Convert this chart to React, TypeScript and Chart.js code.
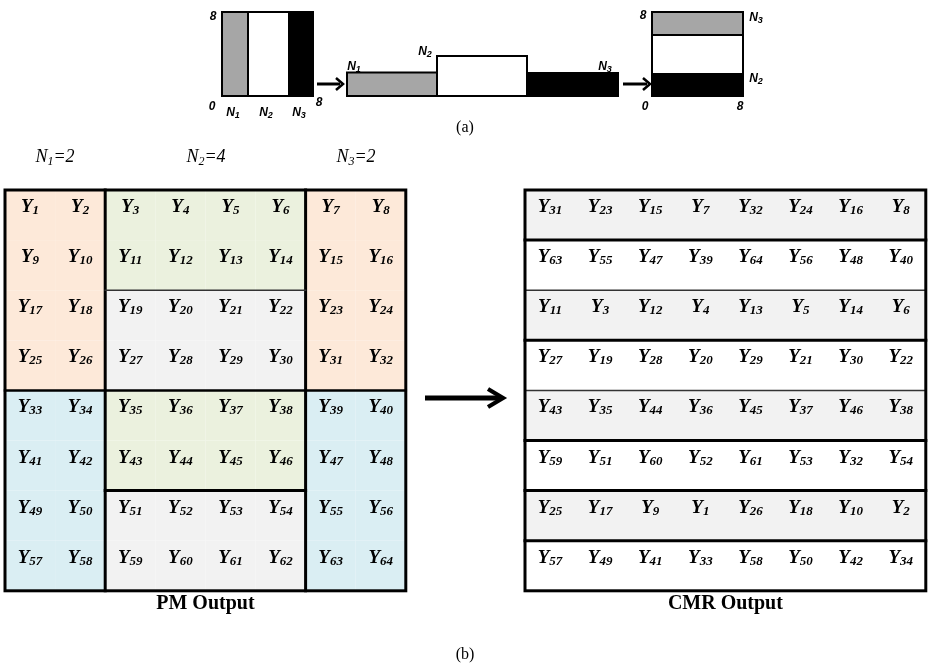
import React, { useEffect, useRef } from "react";
import { Chart, registerables } from "chart.js";

Chart.register(...registerables);

// ---------- data ----------
const N_VALUES = [2, 4, 2];
const N_NAMES = ["1", "2", "3"];

const PM_ROWS = [
  [1, 2, 3, 4, 5, 6, 7, 8],
  [9, 10, 11, 12, 13, 14, 15, 16],
  [17, 18, 19, 20, 21, 22, 23, 24],
  [25, 26, 27, 28, 29, 30, 31, 32],
  [33, 34, 35, 36, 37, 38, 39, 40],
  [41, 42, 43, 44, 45, 46, 47, 48],
  [49, 50, 51, 52, 53, 54, 55, 56],
  [57, 58, 59, 60, 61, 62, 63, 64],
];
const PM_REGIONS = [
  "PPGGGGPP",
  "PPGGGGPP",
  "PPSSSSPP",
  "PPSSSSPP",
  "BBGGGGBB",
  "BBGGGGBB",
  "BBSSSSBB",
  "BBSSSSBB",
];
const CMR_ROWS = [
  [31, 23, 15, 7, 32, 24, 16, 8],
  [63, 55, 47, 39, 64, 56, 48, 40],
  [11, 3, 12, 4, 13, 5, 14, 6],
  [27, 19, 28, 20, 29, 21, 30, 22],
  [43, 35, 44, 36, 45, 37, 46, 38],
  [59, 51, 60, 52, 61, 53, 32, 54],
  [25, 17, 9, 1, 26, 18, 10, 2],
  [57, 49, 41, 33, 58, 50, 42, 34],
];
const CMR_SHADES = "SWSWSWSW";
const PM_TITLE = "PM Output";
const CMR_TITLE = "CMR Output";
const CAPTION_A = "(a)";
const CAPTION_B = "(b)";

// ---------- layout / style ----------
const W = 929;
const H = 664;
const CELL = 50.1;
const PM_X0 = 5;
const CMR_X0 = 525;
const GRID_Y0 = 190;
const FILLS: Record<string, string> = {
  P: "#FDE9D9",
  G: "#EBF1DE",
  S: "#F2F2F2",
  B: "#DAEEF3",
  W: "#FFFFFF",
};
const SERIF = '"Liberation Serif", "Times New Roman", serif';
const SANS = '"Liberation Sans", Arial, sans-serif';

const diagramPlugin = {
  id: "diagram",
  beforeDraw(chart: any) {
    const ctx = chart.ctx;
    ctx.save();
    ctx.fillStyle = "#fff";
    ctx.fillRect(0, 0, chart.width, chart.height);
    ctx.restore();
  },
  afterDatasetsDraw(chart: any) {
    const ctx: CanvasRenderingContext2D = chart.ctx;
    const xs = chart.scales.x;
    const ys = chart.scales.y;
    const X = (v: number) => xs.getPixelForValue(v);
    const Y = (v: number) => ys.getPixelForValue(v);
    ctx.save();

    const rect = (x0: number, y0: number, x1: number, y1: number, fill: string | null, stroke: string | null, lw = 2) => {
      const px = X(x0), py = Y(y0), pw = X(x1) - px, ph = Y(y1) - py;
      if (fill) { ctx.fillStyle = fill; ctx.fillRect(px, py, pw, ph); }
      if (stroke) { ctx.strokeStyle = stroke; ctx.lineWidth = lw; ctx.strokeRect(px, py, pw, ph); }
    };
    const line = (x0: number, y0: number, x1: number, y1: number, lw: number, color = "#000") => {
      ctx.beginPath();
      ctx.moveTo(X(x0), Y(y0));
      ctx.lineTo(X(x1), Y(y1));
      ctx.strokeStyle = color;
      ctx.lineWidth = lw;
      ctx.lineCap = "square";
      ctx.stroke();
    };
    const arrow = (x0: number, x1: number, y: number, lw: number, head: number, hw: number) => {
      ctx.lineCap = "butt";
      ctx.beginPath();
      ctx.moveTo(X(x0), Y(y));
      ctx.lineTo(X(x1) - 3, Y(y));
      ctx.strokeStyle = "#000";
      ctx.lineWidth = lw;
      ctx.stroke();
      ctx.beginPath();
      ctx.moveTo(X(x1) - head, Y(y) - hw);
      ctx.lineTo(X(x1), Y(y));
      ctx.lineTo(X(x1) - head, Y(y) + hw);
      ctx.lineJoin = "miter";
      ctx.lineWidth = lw * 0.85;
      ctx.stroke();
    };
    // label with subscript, centered at cx on given baseline
    const subLabel = (
      cx: number, base: number, main: string, sub: string, tail: string,
      mainFont: string, subFont: string, drop: number
    ) => {
      ctx.textAlign = "left";
      ctx.textBaseline = "alphabetic";
      ctx.fillStyle = "#000";
      ctx.font = mainFont;
      const wm = ctx.measureText(main).width;
      const wt = tail ? ctx.measureText(tail).width : 0;
      ctx.font = subFont;
      const ws = ctx.measureText(sub).width;
      const total = wm + ws + wt;
      let x = X(cx) - total / 2;
      const b = Y(base);
      ctx.font = mainFont;
      ctx.fillText(main, x, b);
      x += wm;
      ctx.font = subFont;
      ctx.fillText(sub, x, b + drop);
      x += ws;
      if (tail) {
        ctx.font = mainFont;
        ctx.fillText(tail, x, b);
      }
    };
    const text = (s: string, cx: number, cy: number, font: string) => {
      ctx.font = font;
      ctx.fillStyle = "#000";
      ctx.textAlign = "center";
      ctx.textBaseline = "middle";
      ctx.fillText(s, X(cx), Y(cy));
    };

    // ===== Part (a) =====
    const aFont = `italic bold 12px ${SANS}`;
    const aSub = `italic bold 9px ${SANS}`;
    const aLabel = (cx: number, cy: number, k: number) => subLabel(cx, cy + 4, "N", N_NAMES[k], "", aFont, aSub, 2);
    const aNum = (s: string, cx: number, cy: number) => text(s, cx, cy, aFont);

    // left square: three vertical strips
    rect(222, 12, 248, 96, "#A6A6A6", null);
    rect(248, 12, 288, 96, "#FFFFFF", null);
    rect(288, 12, 313, 96, "#000000", null);
    line(248, 12, 248, 96, 2);
    rect(222, 12, 313, 96, null, "#000", 2);
    aNum("8", 213, 17);
    aNum("0", 212, 107);
    aLabel(233, 112, 0);
    aLabel(266, 112, 1);
    aLabel(299, 112, 2);
    aNum("8", 319, 103);

    arrow(317, 343, 84, 3, 7, 6);

    // middle strip
    rect(347, 72.5, 437, 96, "#A6A6A6", "#000", 2);
    rect(437, 56, 527, 96, "#FFFFFF", "#000", 2);
    rect(527, 73, 618, 96, "#000000", "#000", 2);
    aLabel(354, 66, 0);
    aLabel(425, 51, 1);
    aLabel(605, 66, 2);

    arrow(623, 650, 84, 3, 7, 6);

    // right square: three horizontal strips
    rect(652, 12, 743, 35, "#A6A6A6", null);
    rect(652, 35, 743, 73, "#FFFFFF", null);
    rect(652, 73, 743, 96, "#000000", null);
    line(652, 35, 743, 35, 2);
    rect(652, 12, 743, 96, null, "#000", 2);
    aNum("8", 643, 16);
    aLabel(756, 17, 2);
    aLabel(756, 78, 1);
    aNum("0", 645, 107);
    aNum("8", 740, 107);

    text(CAPTION_A, 465, 128, `16px ${SERIF}`);

    // N labels
    const nFont = `italic 18px ${SERIF}`;
    const nSub = `italic 12px ${SERIF}`;
    const nCenters = [55, 206, 356];
    N_VALUES.forEach((v, k) => {
      subLabel(nCenters[k], 162, "N", N_NAMES[k], "=" + v, nFont, nSub, 3);
    });

    // ===== PM grid =====
    const yFont = `italic bold 19px ${SERIF}`;
    const ySub = `italic bold 13px ${SERIF}`;
    const cellX = (x0: number, c: number) => x0 + c * CELL;
    const cellY = (r: number) => GRID_Y0 + r * CELL;

    PM_ROWS.forEach((row, r) => {
      row.forEach((_, c) => {
        rect(cellX(PM_X0, c), cellY(r), cellX(PM_X0, c + 1), cellY(r + 1), FILLS[PM_REGIONS[r][c]], null);
      });
    });
    PM_ROWS.forEach((row, r) => {
      row.forEach((v, c) => {
        subLabel(cellX(PM_X0, c) + CELL / 2, cellY(r) + 22, "Y", String(v), "", yFont, ySub, 2);
      });
    });
    const colB1 = cellX(PM_X0, N_VALUES[0]);
    const colB2 = cellX(PM_X0, N_VALUES[0] + N_VALUES[1]);
    line(colB1, cellY(0), colB1, cellY(8), 3);
    line(colB2, cellY(0), colB2, cellY(8), 3);
    line(PM_X0, cellY(4), cellX(PM_X0, 8), cellY(4), 2.5);
    line(colB1, cellY(2), colB2, cellY(2), 1.5, "#333");
    line(colB1, cellY(6), colB2, cellY(6), 3);
    rect(PM_X0, cellY(0), cellX(PM_X0, 8), cellY(8), null, "#000", 3);
    text(PM_TITLE, cellX(PM_X0, 4), 604, `bold 20px ${SERIF}`);

    // ===== arrow =====
    arrow(425, 503, 398, 5, 15, 9);

    // ===== CMR grid =====
    CMR_ROWS.forEach((row, r) => {
      rect(CMR_X0, cellY(r), cellX(CMR_X0, 8), cellY(r + 1), FILLS[CMR_SHADES[r]], null);
    });
    CMR_ROWS.forEach((row, r) => {
      row.forEach((v, c) => {
        subLabel(cellX(CMR_X0, c) + CELL / 2, cellY(r) + 22, "Y", String(v), "", yFont, ySub, 2);
      });
    });
    [1, 3, 5, 6, 7].forEach((r) => line(CMR_X0, cellY(r), cellX(CMR_X0, 8), cellY(r), 3));
    [2, 4].forEach((r) => line(CMR_X0, cellY(r), cellX(CMR_X0, 8), cellY(r), 1.5, "#333"));
    rect(CMR_X0, cellY(0), cellX(CMR_X0, 8), cellY(8), null, "#000", 3);
    text(CMR_TITLE, cellX(CMR_X0, 4), 604, `bold 20px ${SERIF}`);

    text(CAPTION_B, 465, 655, `16px ${SERIF}`);

    ctx.restore();
  },
};

export default function App() {
  const ref = useRef<HTMLCanvasElement>(null);
  useEffect(() => {
    if (!ref.current) return;
    const chart = new Chart(ref.current, {
      type: "scatter",
      data: { datasets: [{ data: [] }] },
      options: {
        animation: false,
        responsive: false,
        maintainAspectRatio: false,
        devicePixelRatio: 1,
        layout: { padding: 0 },
        events: [],
        plugins: { legend: { display: false }, tooltip: { enabled: false } },
        scales: {
          x: { type: "linear", min: 0, max: W, display: false },
          y: { type: "linear", min: 0, max: H, reverse: true, display: false },
        },
      },
      plugins: [diagramPlugin],
    });
    return () => chart.destroy();
  }, []);
  return (
    <div style={{ position: "absolute", left: 0, top: 0, width: W, height: H, background: "#fff" }}>
      <canvas ref={ref} width={W} height={H} style={{ display: "block" }} />
    </div>
  );
}
